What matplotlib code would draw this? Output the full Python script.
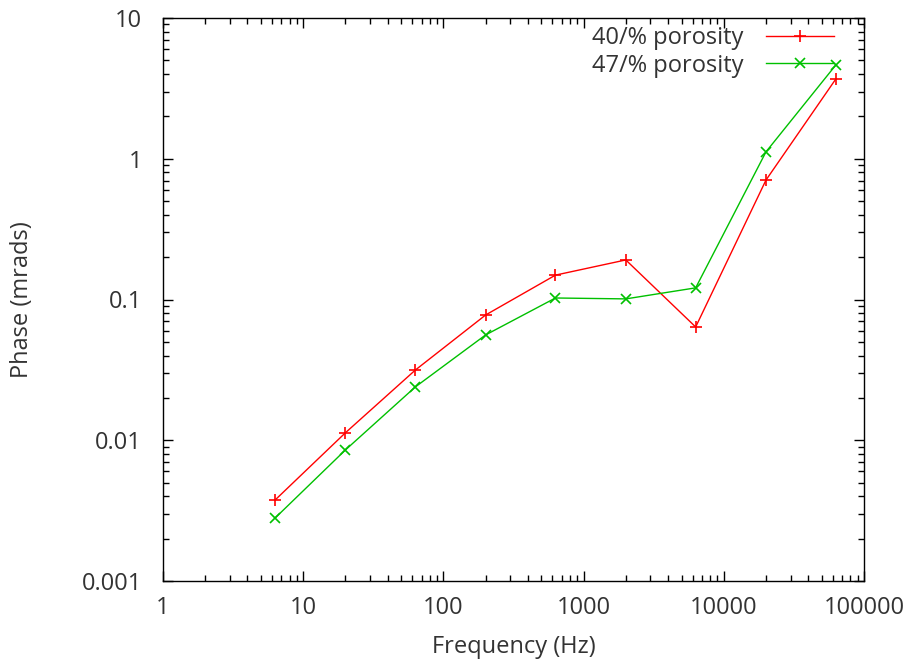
import matplotlib
matplotlib.use("Agg")
import matplotlib.pyplot as plt
from matplotlib.ticker import LogLocator, FixedLocator, FixedFormatter, NullFormatter

# data
freq = [6.3, 20, 63, 200, 630, 2000, 6300, 20000, 63000]
phase_40 = [0.00376, 0.0113, 0.0315, 0.0776, 0.149, 0.191, 0.0638, 0.706, 3.69]
phase_47 = [0.0028, 0.00853, 0.0239, 0.056, 0.1025, 0.101, 0.121, 1.12, 4.64]
x_ticks = [1, 10, 100, 1000, 10000, 100000]
x_labels = ["1", "10", "100", "1000", "10000", "100000"]
y_ticks = [0.001, 0.01, 0.1, 1, 10]
y_labels = ["0.001", "0.01", "0.1", "1", "10"]

txt = "#333333"
plt.rcParams["font.family"] = ["Open Sans", "DejaVu Sans"]
plt.rcParams["font.size"] = 17

fig = plt.figure(figsize=(9.12, 6.61), dpi=100)
ax = fig.add_axes([163 / 912, 1 - 581 / 661, (864 - 163) / 912, (581 - 18) / 661])

ax.plot(freq, phase_40, color="#ff0000", lw=1, marker="+", ms=9, mew=1.2,
        label="40/% porosity")
ax.plot(freq, phase_47, color="#00c000", lw=1, marker="x", ms=7, mew=1.2,
        label="47/% porosity")

ax.set_xscale("log")
ax.set_yscale("log")
ax.set_xlim(1, 100000)
ax.set_ylim(0.001, 10)

ax.xaxis.set_major_locator(FixedLocator(x_ticks))
ax.xaxis.set_major_formatter(FixedFormatter(x_labels))
ax.yaxis.set_major_locator(FixedLocator(y_ticks))
ax.yaxis.set_major_formatter(FixedFormatter(y_labels))
ax.xaxis.set_minor_locator(LogLocator(base=10, subs=range(2, 10), numticks=20))
ax.yaxis.set_minor_locator(LogLocator(base=10, subs=range(2, 10), numticks=20))
ax.xaxis.set_minor_formatter(NullFormatter())
ax.yaxis.set_minor_formatter(NullFormatter())

ax.tick_params(which="both", direction="in", top=True, right=True,
               color="black", labelcolor=txt)
ax.tick_params(which="major", length=7, width=1)
ax.tick_params(axis="x", which="major", pad=11)
ax.tick_params(axis="y", which="major", pad=15)
ax.tick_params(which="minor", length=4, width=1)
for s in ax.spines.values():
    s.set_linewidth(1)

ax.set_xlabel("Frequency (Hz)", color=txt)
ax.set_ylabel("Phase (mrads)", color=txt)
ax.xaxis.set_label_coords(0.5, -(647 - 581) / 563, transform=ax.transAxes)
ax.yaxis.set_label_coords(-(163 - 22) / 701, 0.5, transform=ax.transAxes)
ax.xaxis.label.set_va("center")
ax.yaxis.label.set_va("center")

ax.legend(loc="upper right", bbox_to_anchor=((842 - 163) / 701, 1.0),
          frameon=False, markerfirst=False, numpoints=1,
          handlelength=2.9, handletextpad=0.95, borderaxespad=0, borderpad=0.33,
          labelspacing=0.16, labelcolor=txt)

fig.savefig("out.png", dpi=100)
